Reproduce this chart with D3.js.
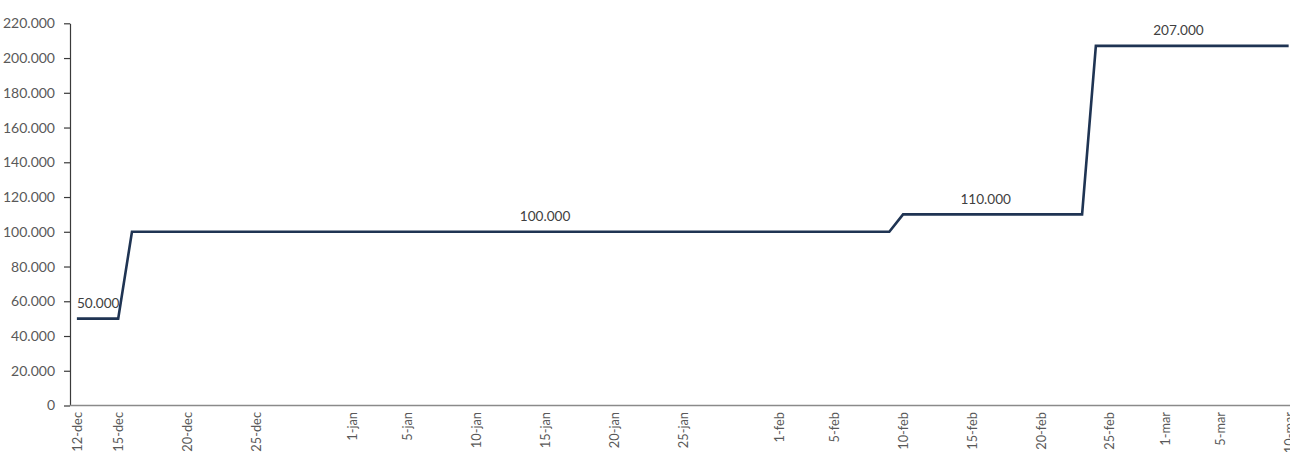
<!DOCTYPE html>
<html>
<head>
<meta charset="utf-8">
<script src="https://cdn.jsdelivr.net/npm/d3@7"></script>
<style>
  html, body { margin: 0; padding: 0; background: #fff; overflow: hidden; }
  svg { display: block; }
  text { font-family: Lato, "Open Sans", sans-serif; }
</style>
</head>
<body>
<svg id="chart" width="1290" height="452"></svg>
<script>
// ---- data ----
const pointDates  = ["2018-12-12", "2018-12-15", "2018-12-16", "2019-02-09", "2019-02-10", "2019-02-23", "2019-02-24", "2019-03-10"];
const pointValues = [50000, 50000, 100000, 100000, 110000, 110000, 207000, 207000];

const labelDates   = ["2018-12-12", "2019-01-15", "2019-02-16", "2019-03-02"];
const labelValues  = [50000, 100000, 110000, 207000];
const labelAnchors = ["start", "middle", "middle", "middle"];

const tickDates = ["2018-12-12", "2018-12-15", "2018-12-20", "2018-12-25", "2019-01-01", "2019-01-05",
                   "2019-01-10", "2019-01-15", "2019-01-20", "2019-01-25", "2019-02-01", "2019-02-05",
                   "2019-02-10", "2019-02-15", "2019-02-20", "2019-02-25", "2019-03-01", "2019-03-05", "2019-03-10"];
const monthNames = ["jan","feb","mar","apr","may","jun","jul","aug","sep","oct","nov","dec"];
const yTicks = [0, 20000, 40000, 60000, 80000, 100000, 120000, 140000, 160000, 180000, 200000, 220000];

// ---- helpers ----
const parse = s => { const [y, m, d] = s.split("-").map(Number); return new Date(y, m - 1, d); };
const locale = d3.formatLocale({ decimal: ",", thousands: ".", grouping: [3], currency: ["", ""] });
const fmt = locale.format(",d");

const data = pointDates.map((d, i) => ({ date: parse(d), value: pointValues[i] }));

// ---- layout ----
const svg = d3.select("#chart");
const plotLeft = 70, plotRight = 1290, plotTop = 23.3, plotBottom = 405.5;
const dayPx = 13.77;

const x0 = new Date(2018, 11, 11, 12);
const x1 = new Date(2019, 2, 12, 12);
const nDays = (x1 - x0) / 86400000;
const x = d3.scaleTime().domain([x0, x1]).range([plotLeft, plotLeft + nDays * dayPx]);
const y = d3.scaleLinear().domain([0, 220000]).range([plotBottom, plotTop]);

// ---- y axis ----
const yAxis = d3.axisLeft(y).tickValues(yTicks).tickFormat(fmt).tickSizeInner(6).tickSizeOuter(0).tickPadding(9);
const gy = svg.append("g").attr("transform", `translate(${plotLeft},0)`).call(yAxis);
gy.attr("font-size", null).attr("font-family", null);
gy.select(".domain").attr("stroke", "#3a3a3a").attr("stroke-width", 1.2);
gy.selectAll(".tick line").attr("stroke", "#3a3a3a").attr("stroke-width", 1.2);
gy.selectAll(".tick text")
  .attr("fill", "#595959")
  .attr("font-size", 14)
  .attr("font-family", "Lato, sans-serif");

// ---- x axis ----
const xAxis = d3.axisBottom(x).tickValues(tickDates.map(parse))
  .tickFormat(d => d.getDate() + "-" + monthNames[d.getMonth()])
  .tickSize(0).tickPadding(0);
const gx = svg.append("g").attr("transform", `translate(0,${plotBottom})`).call(xAxis);
gx.attr("font-size", null).attr("font-family", null);
gx.select(".domain").remove();
gx.append("line")
  .attr("x1", plotLeft).attr("x2", plotRight)
  .attr("y1", 0).attr("y2", 0)
  .attr("stroke", "#8a8a8a").attr("stroke-width", 1.6);
gx.selectAll(".tick text")
  .attr("fill", "#595959")
  .attr("font-size", 12.8)
  .attr("font-family", "Lato, sans-serif")
  .attr("text-anchor", "end")
  .attr("transform", "rotate(-90)")
  .attr("x", -6.5)
  .attr("y", 0)
  .attr("dy", "0.34em");

// ---- line ----
const line = d3.line().x(d => x(d.date)).y(d => y(d.value));
svg.append("path")
  .datum(data)
  .attr("d", line)
  .attr("fill", "none")
  .attr("stroke", "#1f3453")
  .attr("stroke-width", 2.6);

// ---- data labels ----
svg.append("g").selectAll("text")
  .data(labelDates.map((d, i) => ({ date: parse(d), value: labelValues[i], anchor: labelAnchors[i] })))
  .join("text")
  .attr("x", d => x(d.date))
  .attr("y", d => y(d.value) - 10.5)
  .attr("text-anchor", d => d.anchor)
  .attr("fill", "#404040")
  .attr("font-size", 13.6)
  .text(d => fmt(d.value));
</script>
</body>
</html>
